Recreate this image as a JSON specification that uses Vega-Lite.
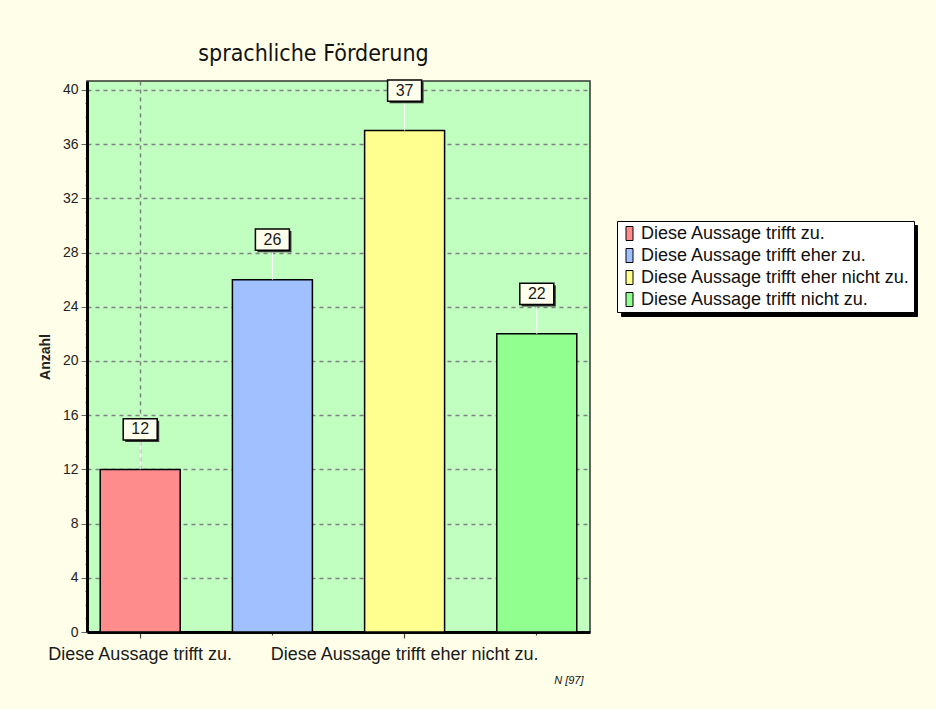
{
  "$schema": "https://vega.github.io/schema/vega-lite/v6.json",
  "width": 503,
  "height": 551,
  "autosize": {"type": "none"},
  "padding": {"left": 87, "top": 81, "right": 346, "bottom": 77},
  "background": "#FFFFE9",
  "title": {
    "text": "sprachliche Förderung",
    "font": "DejaVu Sans Condensed",
    "fontSize": 23,
    "fontWeight": "normal",
    "color": "#111111",
    "anchor": "middle",
    "frame": "group",
    "dx": -25,
    "offset": 11
  },
  "config": {
    "view": {"fill": "#C0FFC0", "stroke": "#333333", "strokeWidth": 1.5},
    "font": "Liberation Sans"
  },
  "data": {
    "values": [
      {"kategorie": "Diese Aussage trifft zu.", "anzahl": 12},
      {"kategorie": "Diese Aussage trifft eher zu.", "anzahl": 26},
      {"kategorie": "Diese Aussage trifft eher nicht zu.", "anzahl": 37},
      {"kategorie": "Diese Aussage trifft nicht zu.", "anzahl": 22}
    ]
  },
  "encoding": {
    "x": {
      "field": "kategorie",
      "type": "nominal",
      "sort": null,
      "scale": {"paddingInner": 0.395, "paddingOuter": 0.1},
      "axis": {
        "title": "N [97]",
        "titleFontStyle": "italic",
        "titleFontSize": 11,
        "titleFontWeight": "normal",
        "titleColor": "#111111",
        "titleX": 496,
        "titleY": 48,
        "titleAlign": "right",
        "titleBaseline": "middle",
        "labelAngle": 0,
        "labelLimit": 0,
        "labelFontSize": 18,
        "labelColor": "#1a1a1a",
        "labelPadding": 7,
        "labelOverlap": false,
        "labelExpr": "indexof(['Diese Aussage trifft zu.', 'Diese Aussage trifft eher nicht zu.'], datum.value) >= 0 ? datum.label : ''",
        "domainColor": "black",
        "domainWidth": 3,
        "tickColor": "#444444",
        "tickWidth": 1.2,
        "tickSize": {"condition": {"test": "indexof(['Diese Aussage trifft zu.', 'Diese Aussage trifft eher nicht zu.'], datum.value) >= 0", "value": 6}, "value": 3},
        "grid": true,
        "gridColor": "#808080",
        "gridDash": [4, 4],
        "gridWidth": 1.5,
        "gridOpacity": {"condition": {"test": "datum.value === 'Diese Aussage trifft zu.'", "value": 1}, "value": 0}
      }
    },
    "y": {
      "field": "anzahl",
      "type": "quantitative",
      "scale": {"domain": [0, 40.66], "nice": false},
      "axis": {
        "title": "Anzahl",
        "titleFontSize": 14,
        "titleFontWeight": "bold",
        "titleColor": "#222222",
        "titlePadding": 10,
        "values": [0,1,2,3,4,5,6,7,8,9,10,11,12,13,14,15,16,17,18,19,20,21,22,23,24,25,26,27,28,29,30,31,32,33,34,35,36,37,38,39,40],
        "labelExpr": "datum.value % 4 === 0 ? datum.label : ''",
        "labelOverlap": false,
        "labelFontSize": 14,
        "labelColor": "#222222",
        "labelPadding": 3,
        "domainColor": "black",
        "domainWidth": 3,
        "tickColor": "#666666",
        "tickSize": {"condition": {"test": "datum.value % 4 === 0", "value": 6}, "value": 2},
        "grid": true,
        "gridColor": "#808080",
        "gridDash": [4, 4],
        "gridWidth": 1.5,
        "gridOpacity": {"condition": {"test": "datum.value % 4 === 0", "value": 1}, "value": 0}
      }
    }
  },
  "layer": [
    {
      "mark": {"type": "bar", "stroke": "black", "strokeWidth": 1.5},
      "encoding": {
        "color": {
          "field": "kategorie",
          "type": "nominal",
          "sort": null,
          "scale": {
            "domain": ["Diese Aussage trifft zu.", "Diese Aussage trifft eher zu.", "Diese Aussage trifft eher nicht zu.", "Diese Aussage trifft nicht zu."],
            "range": ["#FF8C8C", "#A0C0FF", "#FFFF90", "#90FF90"]
          },
          "legend": {
            "title": null,
            "orient": "none",
            "legendX": 530,
            "legendY": 140,
            "zindex": 2,
            "fillColor": "white",
            "strokeColor": "black",
            "padding": 3.5,
            "labelFontSize": 18,
            "labelFont": "Liberation Sans",
            "labelColor": "#111111",
            "labelLimit": 400,
            "labelOffset": 2.5,
            "rowPadding": 4,
            "symbolType": "M-0.5,-1L0.5,-1L0.5,1L-0.5,1Z",
            "symbolSize": 196,
            "symbolStrokeColor": "black",
            "symbolStrokeWidth": 1,
            "symbolOpacity": 1
          }
        }
      }
    },
    {
      "mark": {"type": "point", "opacity": 0, "size": 1},
      "encoding": {
        "shape": {
          "field": "kategorie",
          "type": "nominal",
          "sort": null,
          "scale": {"range": ["M-0.5,-1L0.5,-1L0.5,1L-0.5,1Z", "M-0.5,-1L0.5,-1L0.5,1L-0.5,1Z", "M-0.5,-1L0.5,-1L0.5,1L-0.5,1Z", "M-0.5,-1L0.5,-1L0.5,1L-0.5,1Z"]},
          "legend": {
            "title": null,
            "orient": "none",
            "legendX": 534,
            "legendY": 144,
            "zindex": 1,
            "fillColor": "black",
            "strokeColor": "black",
            "padding": 3.5,
            "labelExpr": "''",
            "labelFontSize": 18,
            "labelFont": "Liberation Sans",
            "labelColor": "black",
            "labelLimit": 400,
            "labelOffset": 271,
            "rowPadding": 4,
            "symbolSize": 196,
            "symbolFillColor": "black",
            "symbolStrokeColor": "black",
            "symbolStrokeWidth": 1,
            "symbolOpacity": 1
          }
        }
      }
    },
    {
      "mark": {"type": "rule", "color": "white", "strokeWidth": 1, "y2Offset": -29},
      "encoding": {
        "y2": {"field": "anzahl"}
      }
    },
    {
      "mark": {"type": "point", "shape": "M-1,-0.62L1,-0.62L1,0.62L-1,0.62Z", "size": 1156, "filled": true, "fill": "#333333", "stroke": "#333333", "strokeWidth": 0, "opacity": 1, "xOffset": 2, "yOffset": -38}
    },
    {
      "mark": {"type": "point", "shape": "M-1,-0.62L1,-0.62L1,0.62L-1,0.62Z", "size": 1156, "filled": true, "fill": "#FFFFEE", "stroke": "black", "strokeWidth": 1.5, "opacity": 1, "yOffset": -40}
    },
    {
      "mark": {"type": "text", "fontSize": 16, "font": "Liberation Sans", "color": "#1a1a1a", "baseline": "middle", "yOffset": -40},
      "encoding": {"text": {"field": "anzahl", "type": "quantitative"}}
    }
  ]
}
